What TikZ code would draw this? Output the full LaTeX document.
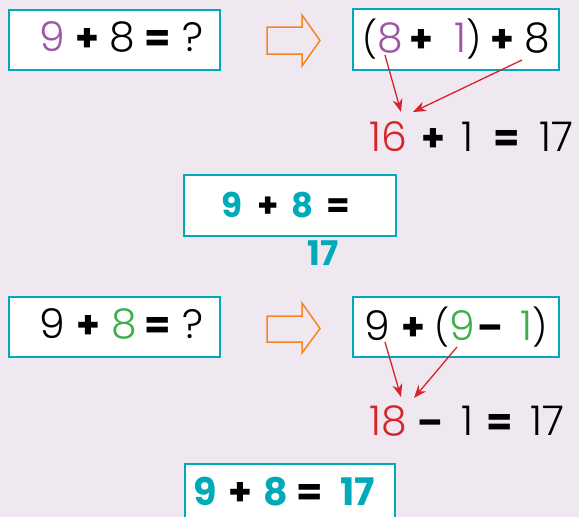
\documentclass[tikz,border=0pt]{standalone}
\usepackage{fontspec}
\setmainfont{Poppins Light}
\newfontfamily\bolder{Poppins Bold}
\usetikzlibrary{arrows.meta}
\definecolor{bgcol}{HTML}{EFE8F1}
\definecolor{tealc}{HTML}{00AAB8}
\definecolor{purp}{HTML}{A054A8}
\definecolor{grn}{HTML}{3DAE4A}
\definecolor{redc}{HTML}{D8232A}
\definecolor{orng}{HTML}{F5861F}
\newcommand{\pl}{{\bolder\fontsize{38}{38}\selectfont +}}
\newcommand{\eq}{{\bolder\fontsize{38}{38}\selectfont =}}
\newcommand{\mn}{{\bolder\fontsize{37}{37}\selectfont \char"2013}}
\newcommand{\pa}[1]{{\fontsize{36}{36}\selectfont #1}}
\tikzset{
  box/.style={draw=tealc, line width=1.5pt, fill=white},
  gl/.style={anchor=base, inner sep=0pt, font=\fontsize{41}{41}\selectfont},
  bgl/.style={anchor=base, inner sep=0pt, text=tealc, font=\bolder\fontsize{34}{34}\selectfont},
  bgll/.style={anchor=base, inner sep=0pt, text=tealc, font=\bolder\fontsize{38}{38}\selectfont},
  redarrow/.style={draw=redc, line width=1.3pt, -{Stealth[length=13pt,width=10pt]}},
  hollow/.style={draw=orng, line width=1.5pt, fill=none, line join=miter}
}
\begin{document}
\begin{tikzpicture}[x=1pt,y=-1pt]
\fill[bgcol] (0,0) rectangle (579,517);
\useasboundingbox (0,0) rectangle (579,517);
\clip (0,0) rectangle (579,517);
% ---------- top row ----------
\node[box, minimum width=211pt, minimum height=60pt, anchor=north west] (b1) at (8,9) {};
\foreach \x/\t [count=\i] in {52/{\textcolor{purp}{9}}, 87/\pl, 122.5/8, 158/\eq, 193/?}
  \node[gl] (a\i) at (\x,51) {\t};
\draw[hollow] (267,27) -- (302,27) -- (302,15) -- (320,40.5) -- (302,66) -- (302,54) -- (267,54) -- cycle;
\node[box, minimum width=206pt, minimum height=61pt, anchor=north west] (b2) at (352,8) {};
\foreach \x/\t [count=\i] in {383/{\pa{(}\textcolor{purp}{8}}, 421/\pl, 468/{\textcolor{purp}{1}\pa{)}}, 502.5/\pl, 537.5/8}
  \node[gl] (c\i) at (\x,52) {\t};
\foreach \x/\t [count=\i] in {388.5/{\textcolor{redc}{16}}, 433/\pl, 467/1, 507/\eq, 556.5/17}
  \node[gl] (d\i) at (\x,151) {\t};
\coordinate (s1) at (385,55);
\coordinate (e1) at (401,112);
\coordinate (s2) at (522,60);
\coordinate (e2) at (413,112);
\draw[redarrow] (s1) -- (e1);
\draw[redarrow] (s2) -- (e2);
\node[box, minimum width=212pt, minimum height=61pt, anchor=north west] (b3) at (183,174) {};
\foreach \x/\t [count=\i] in {232/9, 268/{\textcolor{black}{+}}, 303/8, 338/{\textcolor{black}{=}}}
  \node[bgl] (f\i) at (\x,217) {\t};
\node[bgl] (f5) at (323,265) {17};
% ---------- bottom row ----------
\node[box, minimum width=211pt, minimum height=60pt, anchor=north west] (b4) at (8,296) {};
\foreach \x/\t [count=\i] in {52/9, 88/\pl, 124/{\textcolor{grn}{8}}, 158/\eq, 193/?}
  \node[gl] (h\i) at (\x,338) {\t};
\draw[hollow] (267,316) -- (302,316) -- (302,303) -- (320,328.5) -- (302,353) -- (302,342) -- (267,342) -- cycle;
\node[box, minimum width=206pt, minimum height=60pt, anchor=north west] (b5) at (352,296) {};
\foreach \x/\t [count=\i] in {377/9, 413/\pl, 455/{\pa{(}\textcolor{grn}{9}}, 490/\mn, 534/{\textcolor{grn}{1}\pa{)}}}
  \node[gl] (k\i) at (\x,340) {\t};
\foreach \x/\t [count=\i] in {388.5/{\textcolor{redc}{18}}, 430/\mn, 467/1, 500/\eq, 547.5/17}
  \node[gl] (m\i) at (\x,435) {\t};
\coordinate (s3) at (385,342);
\coordinate (e3) at (401,397);
\coordinate (s4) at (457,347);
\coordinate (e4) at (414,398);
\draw[redarrow] (s3) -- (e3);
\draw[redarrow] (s4) -- (e4);
\node[box, minimum width=210pt, minimum height=70pt, anchor=north west] (b6) at (184,463) {};
\foreach \x/\t [count=\i] in {205/9, 240/{\textcolor{black}{+}}, 276/8, 310/{\textcolor{black}{=}}, 358/17}
  \node[bgll] (p\i) at (\x,505) {\t};
\end{tikzpicture}
\end{document}
